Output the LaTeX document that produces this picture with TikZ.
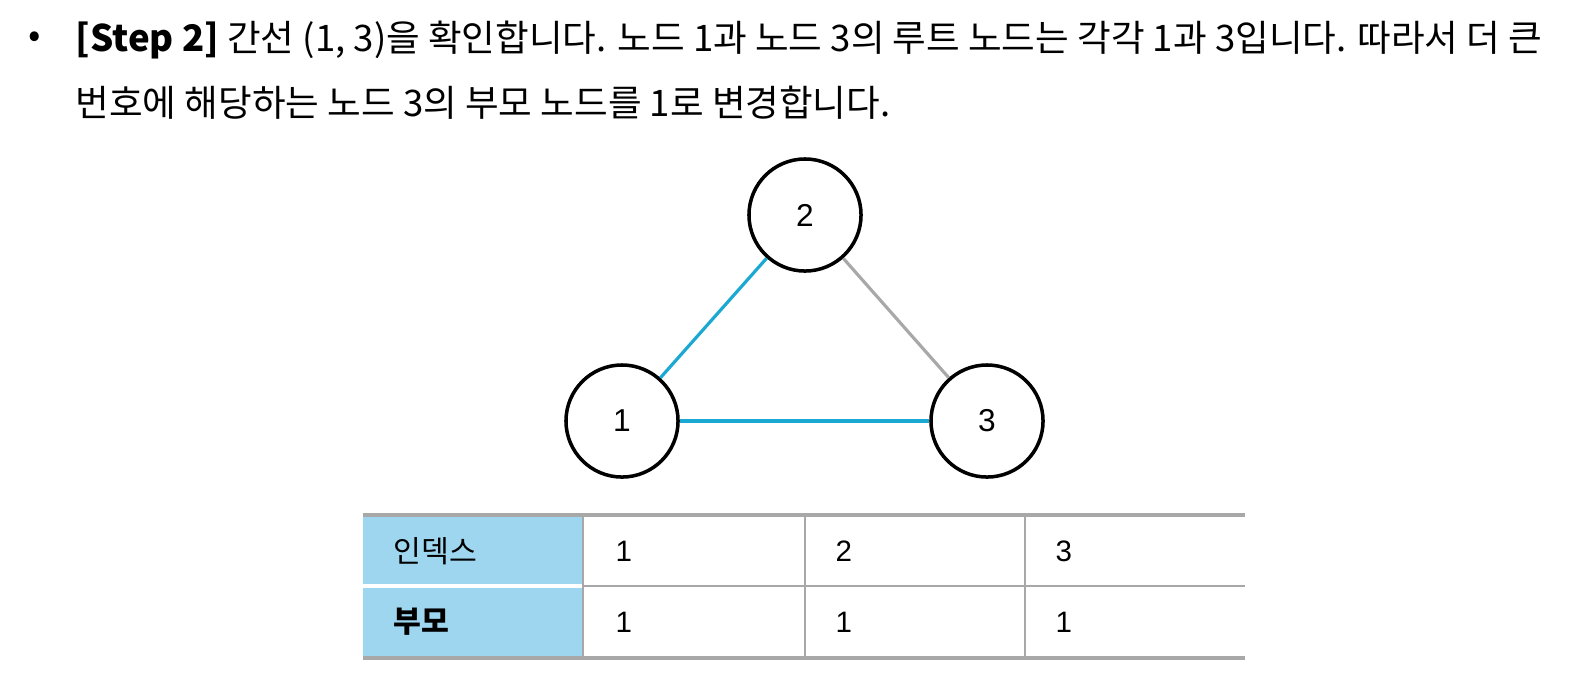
\documentclass[tikz,border=0pt]{standalone}
\usepackage{fontspec}
\setmainfont{Noto Sans CJK KR}
\newfontfamily\numfont{Liberation Sans}
\definecolor{edgeblue}{HTML}{1BA8D2}
\definecolor{headblue}{HTML}{9DD6EE}
\definecolor{rulegray}{HTML}{A8A8A8}
\begin{document}
\begin{tikzpicture}[x=0.01cm, y=-0.01cm]
\tikzstyle{vertex} = [circle, draw=black, line width=1pt, minimum size=1.12cm, inner sep=0pt, font=\numfont\fontsize{9}{9}\selectfont]
\tikzstyle{line} = [anchor=west, inner sep=0pt, font=\fontsize{10.4}{12}\selectfont]
\tikzstyle{cell} = [anchor=west, inner sep=0pt, font=\numfont\fontsize{8.4}{10}\selectfont]
% text
\node[line] (L0) at (28,40) {•};
\node[line] (L1) at (75,40) {\textbf{[Step 2]} 간선 (1, 3)을 확인합니다. 노드 1과 노드 3의 루트 노드는 각각 1과 3입니다. 따라서 더 큰};
\node[line] (L2) at (75,103) {번호에 해당하는 노드 3의 부모 노드를 1로 변경합니다.};
% graph
\node[vertex] (N2) at (805,215) {2};
\node[vertex] (N1) at (622,421) {1};
\node[vertex] (N3) at (987,421) {3};
\draw[edgeblue, line width=0.9pt] (N1) -- (N2);
\draw[edgeblue, line width=0.9pt] (N1) -- (N3);
\draw[rulegray, line width=0.9pt] (N2) -- (N3);
% table
\fill[headblue] (363,515) rectangle (583,658);
\draw[white, line width=1pt] (363,586) -- (583,586);
\draw[rulegray, line width=0.8pt] (583,586) -- (1245,586);
\draw[rulegray, line width=1pt] (363,515) -- (1245,515);
\draw[rulegray, line width=1pt] (363,658) -- (1245,658);
\foreach \x in {583,805,1025} \draw[rulegray, line width=0.8pt] (\x,515) -- (\x,658);
\node[line, font=\fontsize{8.6}{10}\selectfont] (H1) at (393,551) {인덱스};
\node[line, font=\fontsize{8.6}{10}\selectfont] (H2) at (393,622) {\textbf{부모}};
\foreach \x/\v in {615/1,835/2,1055/3} \node[cell] (I\v) at (\x,551) {\v};
\foreach \x/\v in {615/1,835/2,1055/3} \node[cell] (P\v) at (\x,622) {1};
\pgfresetboundingbox
\useasboundingbox (0,0) rectangle (1592,684);
\end{tikzpicture}
\end{document}
